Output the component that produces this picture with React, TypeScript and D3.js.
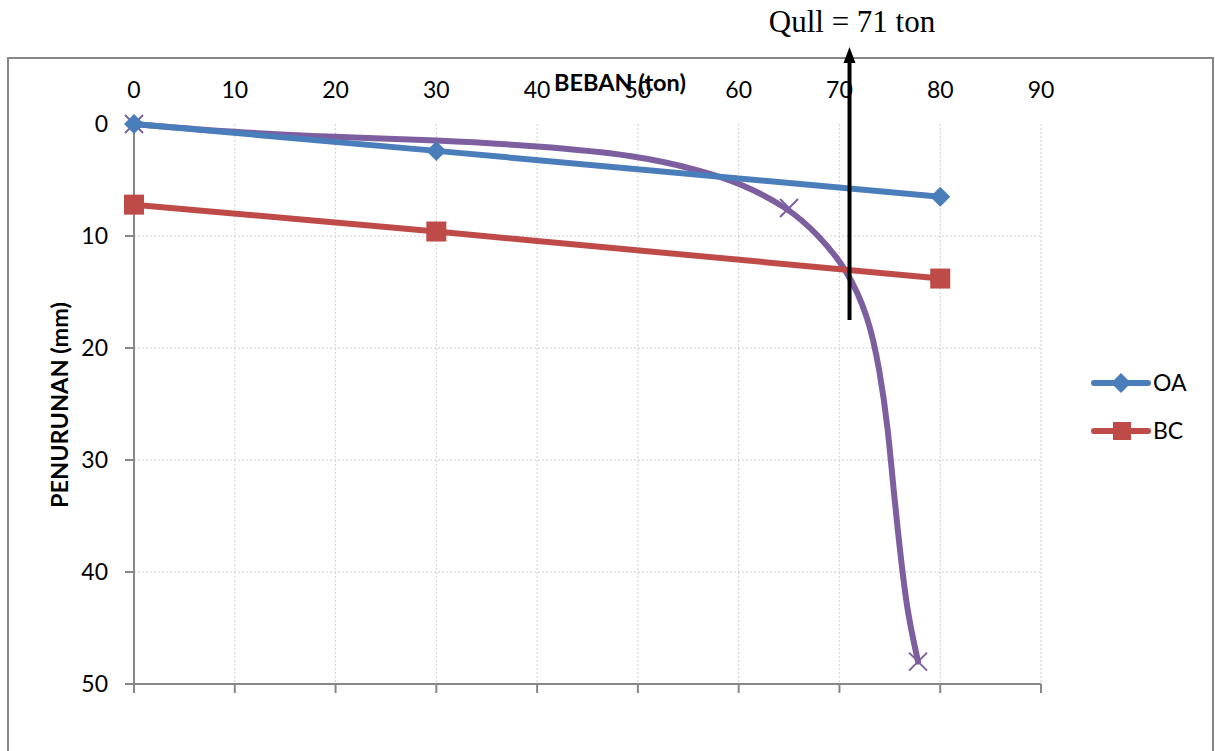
import React from "react";
import * as d3 from "d3";

const xTicks = [0, 10, 20, 30, 40, 50, 60, 70, 80, 90];
const yTicks = [0, 10, 20, 30, 40, 50];

const oaX = [0, 30, 80];
const oaY = [0, 2.4, 6.5];

const bcX = [0, 30, 80];
const bcY = [7.2, 9.6, 13.8];

// purple curve: marked points
const qMarkX = [0, 65, 77.8];
const qMarkY = [0, 7.5, 48];
// purple curve: traced path
const qCurveX = [0, 10, 20, 30, 40, 50, 56, 60, 65, 68, 70.7, 72.9, 74, 74.8, 75.4, 76, 76.7, 77.8];
const qCurveY = [0, 0.75, 1.15, 1.45, 1.95, 2.8, 4.1, 5.2, 7.5, 10, 12.9, 17.2, 22, 27, 33, 38, 43.5, 48];

const qull = 71;
const arrowBottom = 17.5;

const BLUE = "#4A7EBB";
const RED = "#BE4B48";
const PURPLE = "#7D5FA0";
const AXIS = "#878787";
const FONT = "Lato, 'Open Sans', sans-serif";
const FS = 23;
const LW = 6;

export default function App() {
  const x = d3.scaleLinear().domain([0, 90]).range([134, 1041]);
  const y = d3.scaleLinear().domain([0, 50]).range([124, 684]);

  const line = d3
    .line<[number, number]>()
    .x((d) => x(d[0]))
    .y((d) => y(d[1]));
  const smooth = d3
    .line<[number, number]>()
    .x((d) => x(d[0]))
    .y((d) => y(d[1]))
    .curve(d3.curveBasis);

  const oa = oaX.map((v, i) => [v, oaY[i]] as [number, number]);
  const bc = bcX.map((v, i) => [v, bcY[i]] as [number, number]);
  const qc = qCurveX.map((v, i) => [v, qCurveY[i]] as [number, number]);
  const qm = qMarkX.map((v, i) => [v, qMarkY[i]] as [number, number]);

  const diamond = (cx: number, cy: number, r: number) =>
    `M${cx},${cy - r}L${cx + r},${cy}L${cx},${cy + r}L${cx - r},${cy}Z`;

  const ax = x(qull);

  return (
    <svg
      width={1215}
      height={751}
      style={{ position: "absolute", left: 0, top: 0, background: "#fff" }}
    >
      <rect x={0} y={0} width={1215} height={751} fill="#fff" />
      {/* outer chart border */}
      <rect x={8} y={58} width={1205} height={720} fill="none" stroke={AXIS} strokeWidth={2} />

      {/* gridlines */}
      {xTicks.slice(1).map((t) => (
        <line key={"gx" + t} x1={x(t)} x2={x(t)} y1={y(0)} y2={y(50)} stroke="#d0d0d0" strokeWidth={1} strokeDasharray="2,2" />
      ))}
      {yTicks.slice(1, -1).map((t) => (
        <line key={"gy" + t} x1={x(0)} x2={x(90)} y1={y(t)} y2={y(t)} stroke="#d0d0d0" strokeWidth={1} strokeDasharray="2,2" />
      ))}

      {/* axes */}
      <line x1={x(0)} x2={x(0)} y1={y(0)} y2={y(50)} stroke={AXIS} strokeWidth={2} />
      <line x1={x(0) - 9} x2={x(90)} y1={y(50)} y2={y(50)} stroke={AXIS} strokeWidth={2} />
      {yTicks.map((t) => (
        <line key={"ty" + t} x1={x(0) - 9} x2={x(0)} y1={y(t)} y2={y(t)} stroke={AXIS} strokeWidth={2} />
      ))}
      {xTicks.map((t) => (
        <line key={"tx" + t} x1={x(t)} x2={x(t)} y1={y(50)} y2={y(50) + 9} stroke={AXIS} strokeWidth={2} />
      ))}

      {/* tick labels */}
      {xTicks.map((t) => (
        <text key={"lx" + t} x={x(t)} y={98} textAnchor="middle" fontFamily={FONT} fontSize={FS} fill="#000">
          {t}
        </text>
      ))}
      {yTicks.map((t) => (
        <text key={"ly" + t} x={108} y={y(t) + 8} textAnchor="end" fontFamily={FONT} fontSize={FS} fill="#000">
          {t}
        </text>
      ))}

      {/* axis titles */}
      <text x={620} y={91} textAnchor="middle" fontFamily={FONT} fontSize={23.5} fontWeight="bold" fill="#000">
        BEBAN (ton)
      </text>
      <text
        transform={`translate(68,405) rotate(-90)`}
        textAnchor="middle"
        fontFamily={FONT}
        fontSize={23.5}
        fontWeight="bold"
        fill="#000"
      >
        PENURUNAN (mm)
      </text>

      {/* purple curve */}
      <path d={smooth(qc) || ""} fill="none" stroke={PURPLE} strokeWidth={LW} strokeLinecap="round" />
      {qm.map((d, i) => (
        <g key={"qm" + i} stroke={PURPLE} strokeWidth={2}>
          <line x1={x(d[0]) - 9} x2={x(d[0]) + 9} y1={y(d[1]) - 9} y2={y(d[1]) + 9} />
          <line x1={x(d[0]) - 9} x2={x(d[0]) + 9} y1={y(d[1]) + 9} y2={y(d[1]) - 9} />
        </g>
      ))}

      {/* BC series */}
      <path d={line(bc) || ""} fill="none" stroke={RED} strokeWidth={LW} strokeLinecap="round" />
      {bc.map((d, i) => (
        <rect key={"bc" + i} x={x(d[0]) - 10} y={y(d[1]) - 10} width={20} height={20} fill={RED} />
      ))}

      {/* OA series */}
      <path d={line(oa) || ""} fill="none" stroke={BLUE} strokeWidth={LW} strokeLinecap="round" />
      {oa.map((d, i) => (
        <path key={"oa" + i} d={diamond(x(d[0]), y(d[1]), 10)} fill={BLUE} />
      ))}

      {/* Qull arrow */}
      <line x1={ax} x2={ax} y1={y(arrowBottom)} y2={60} stroke="#000" strokeWidth={4} />
      <path d={`M${ax},${47}L${ax + 6},${63}L${ax - 6},${63}Z`} fill="#000" />
      <text x={852} y={32} textAnchor="middle" fontFamily="'Liberation Serif', 'Times New Roman', serif" fontSize={31} fill="#000">
        Qull = 71 ton
      </text>

      {/* legend */}
      <line x1={1094} x2={1148} y1={383} y2={383} stroke={BLUE} strokeWidth={LW} strokeLinecap="round" />
      <path d={diamond(1121, 383, 10)} fill={BLUE} />
      <text x={1153} y={391} fontFamily={FONT} fontSize={FS} fill="#000">OA</text>
      <line x1={1094} x2={1148} y1={431} y2={431} stroke={RED} strokeWidth={LW} strokeLinecap="round" />
      <rect x={1113} y={422} width={18} height={18} fill={RED} />
      <text x={1153} y={439} fontFamily={FONT} fontSize={FS} fill="#000">BC</text>
    </svg>
  );
}
